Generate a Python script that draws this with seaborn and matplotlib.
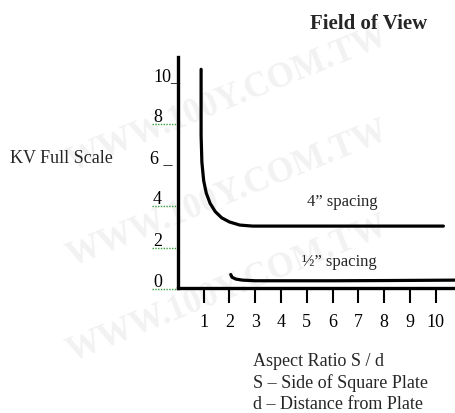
import matplotlib
matplotlib.use("Agg")
import matplotlib.pyplot as plt
import matplotlib.transforms as mtransforms
import pandas as pd
import seaborn as sns

# data
wide_x = [0.9, 0.9, 0.93, 1.0, 1.1, 1.25, 1.45, 1.7, 2.0, 2.4, 2.9, 4.0, 6.0, 8.0, 10.3]
wide_y = [10.6, 7.4, 6.1, 5.2, 4.6, 4.1, 3.7, 3.4, 3.2, 3.05, 3.0, 3.0, 3.0, 3.0, 3.0]
narrow_x = [2.05, 2.1, 2.25, 2.5, 3.0, 4.0, 6.0, 8.0, 10.75]
narrow_y = [0.65, 0.52, 0.43, 0.38, 0.35, 0.35, 0.35, 0.36, 0.38]
x_ticks = [1, 2, 3, 4, 5, 6, 7, 8, 9, 10]
y_ticks = [0, 2, 4, 6, 8, 10]
y_tick_text = ["0", "2", "4", "6 _", "8", "10_"]
squiggle_ticks = [0, 2, 4, 8]

df = pd.concat([
    pd.DataFrame({"ratio": wide_x, "kv": wide_y, "spacing": "4in"}),
    pd.DataFrame({"ratio": narrow_x, "kv": narrow_y, "spacing": "half"}),
])

sns.set_theme(style="white")
plt.rcParams["font.family"] = ["Liberation Serif", "DejaVu Serif"]

fig = plt.figure(figsize=(4.55, 4.14), dpi=100)

# faint watermark, kept behind the axes
for cx, cy in [(0.5, 0.76), (0.5, 0.53), (0.5, 0.3)]:
    fig.text(cx, cy, "WWW.100Y.COM.TW", fontsize=25, fontweight="bold",
             color="#f2f2f2", rotation=22, ha="center", va="center", zorder=-5)

ax = fig.add_axes([0.391, 0.302, 0.609, 0.558])
ax.patch.set_alpha(0)

for key, d in df.groupby("spacing", sort=False):
    sns.lineplot(data=d, x="ratio", y="kv", ax=ax, color="black", lw=2.3,
                 sort=False, estimator=None, legend=False)

ax.set_xlim(0, 10.75)
ax.set_ylim(0, 11.2)
sns.despine(ax=ax, top=True, right=True)
for side in ["left", "bottom"]:
    ax.spines[side].set_linewidth(2.4)
    ax.spines[side].set_color("black")

ax.set_xticks(x_ticks)
ax.set_xticklabels([str(t) for t in x_ticks], fontsize=13)
ax.tick_params(axis="x", direction="out", length=11, width=1.5, pad=7,
               bottom=True, colors="black")
ax.set_yticks([])
ax.set_xlabel("")
ax.set_ylabel("")

blend = mtransforms.blended_transform_factory(ax.transAxes, ax.transData)
for v, t in zip(y_ticks, y_tick_text):
    xpos = -0.09 if v != 6 else -0.10
    ax.text(xpos, v + 0.1, t, transform=blend, fontsize=13, va="baseline",
            ha="left", color="black")
for v in squiggle_ticks:
    ax.plot([-0.093, -0.004], [v - 0.05, v - 0.05], transform=blend,
            color="#3a9a3a", lw=1.0, ls=(0, (1, 1)), clip_on=False)

ax.text(5.0, 4.2, "4\u201d spacing", fontsize=12, va="center", ha="left")
ax.text(4.8, 1.3, "\u00bd\u201d spacing", fontsize=12, va="center", ha="left")

fig.text(0.811, 0.942, "Field of View", fontsize=15, fontweight="bold",
         ha="center", va="center")
fig.text(0.022, 0.618, "KV Full Scale", fontsize=13, ha="left", va="center")
fig.text(0.556, 0.126, "Aspect Ratio S / d", fontsize=13, ha="left", va="center")
fig.text(0.556, 0.075, "S \u2013 Side of Square Plate", fontsize=13, ha="left", va="center")
fig.text(0.556, 0.024, "d \u2013 Distance from Plate", fontsize=13, ha="left", va="center")

fig.savefig("out.png", dpi=100)
